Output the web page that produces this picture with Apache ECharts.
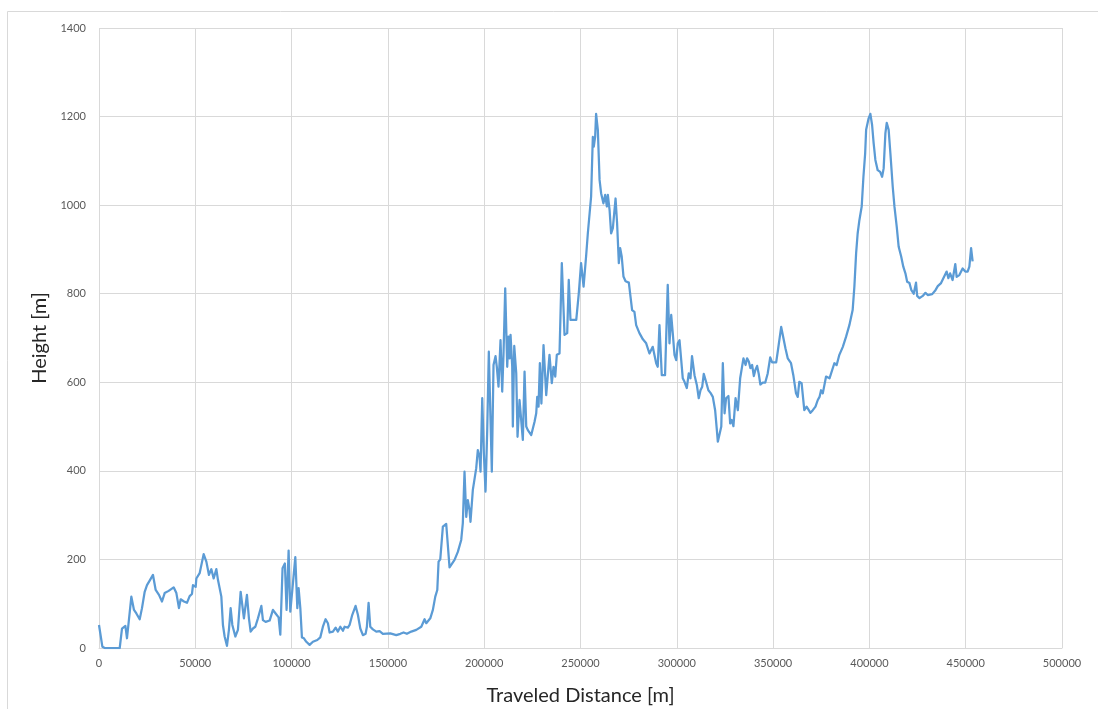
<!DOCTYPE html>
<html>
<head>
<meta charset="utf-8">
<title>Height profile</title>
<script src="https://cdn.jsdelivr.net/npm/echarts@6/dist/echarts.min.js"></script>
<style>
  html, body { margin: 0; padding: 0; background: #ffffff; }
  #chart { width: 1098px; height: 709px; }
</style>
</head>
<body>
<div id="chart"></div>
<script>
// Elevation profile along the route: distance travelled (m) vs. height (m)
const distanceKm = [
  0, 0.9, 1.75, 3.0, 10.75, 11.94, 12.97, 13.7, 14.53, 15.25,
  16.8, 18.16, 19.4, 21.12, 22.32, 23.72, 24.92, 26.31, 28.03, 29.43,
  31.14, 32.7, 34.1, 36.17, 38.77, 40.17, 41.52, 42.4, 44.12, 45.67,
  47.07, 48.27, 48.79, 50.19, 50.55, 52.26, 54.34, 55.74, 57.09, 58.33,
  59.53, 60.93, 61.76, 62.64, 63.52, 64.35, 65.23, 66.43, 67.46, 68.35,
  69.23, 69.91, 70.79, 72.13, 73.54, 74.42, 75.25, 76.81, 77.85, 78.73,
  79.93, 81.17, 82.52, 84.29, 85.11, 86.52, 88.59, 90.31, 91.7, 93.26,
  94.14, 95.3, 96.5, 97.4, 98.45, 99.33, 100.69, 101.93, 102.97, 103.64,
  104.53, 105.36, 106.4, 107.64, 109.35, 111.06, 113.34, 114.9, 116.25, 117.66,
  118.85, 119.74, 121.46, 122.86, 124.05, 125.3, 126.64, 127.52, 129.23, 130.11,
  131.51, 133.23, 134.42, 135.67, 137.02, 138.42, 139.09, 139.97, 140.85, 142.2,
  143.97, 145.69, 147.4, 151.24, 154.35, 156.43, 158.14, 159.86, 162.14, 164.74,
  167.33, 169.04, 169.93, 172.0, 173.35, 174.6, 175.64, 176.31, 177.19, 178.54,
  180.28, 182.0, 182.88, 184.6, 186.31, 188.07, 188.9, 189.78, 190.68, 191.5,
  192.37, 192.89, 194.1, 195.86, 196.69, 197.58, 198.1, 198.98, 199.81, 200.69,
  201.57, 202.4, 203.29, 203.96, 204.84, 205.88, 206.55, 207.43, 208.47, 209.35,
  210.02, 210.91, 211.95, 212.62, 213.16, 213.68, 214.55, 214.87, 215.6, 216.64,
  217.31, 218.35, 219.23, 220.06, 220.95, 221.83, 222.66, 224.42, 226.14, 227.01,
  227.53, 228.21, 228.9, 229.7, 230.8, 232.2, 233.9, 235.1, 236.0, 236.9,
  237.7, 239.1, 240.3, 241.7, 243.1, 243.9, 244.8, 247.8, 249.1, 250.3,
  251.6, 252.9, 253.8, 254.7, 255.5, 256.4, 256.9, 257.6, 258.1, 259.0,
  259.9, 260.7, 261.9, 262.8, 263.7, 264.2, 265.1, 265.9, 266.8, 268.2,
  269.0, 269.9, 270.6, 271.4, 272.3, 273.4, 274.2, 275.1, 275.9, 276.8,
  278.0, 278.9, 280.6, 282.4, 284.1, 285.8, 287.5, 289.3, 290.1, 291.0,
  292.2, 293.9, 295.3, 296.2, 297.1, 297.9, 298.8, 299.7, 300.5, 301.4,
  302.3, 303.1, 304.0, 305.2, 306.2, 307.1, 307.9, 309.2, 310.4, 311.4,
  312.3, 313.2, 314.0, 315.2, 316.4, 317.5, 318.7, 319.9, 320.8, 321.3,
  322.2, 323.1, 323.9, 324.8, 325.6, 326.8, 327.7, 328.5, 329.4, 330.5,
  331.7, 332.9, 333.4, 334.6, 335.7, 336.5, 337.4, 338.2, 339.1, 340.0,
  340.8, 341.7, 342.5, 343.4, 344.6, 345.9, 347.2, 348.5, 349.5, 351.6,
  352.4, 353.3, 354.2, 355.4, 356.4, 357.6, 359.3, 360.5, 361.4, 361.9,
  362.8, 363.6, 364.8, 366.2, 367.4, 369.4, 370.6, 372.0, 373.2, 374.1,
  374.9, 375.8, 377.5, 379.3, 381.8, 383.0, 384.4, 386.2, 387.9, 389.6,
  391.3, 392.2, 393.1, 393.9, 394.8, 396.0, 396.9, 397.8, 398.3, 399.6,
  400.5, 401.4, 402.2, 403.1, 404.3, 405.6, 406.6, 407.4, 408.3, 409.0,
  410.0, 410.9, 412.1, 413.0, 414.2, 415.2, 416.5, 417.6, 418.7, 419.6,
  420.8, 421.8, 423.0, 424.2, 424.8, 426.0, 427.7, 429.1, 430.3, 432.6,
  434.3, 435.5, 437.2, 438.4, 440.1, 441.0, 441.9, 443.2, 444.6, 445.3,
  446.7, 448.4, 449.8, 451.0, 451.9, 452.8, 453.6
];

const heightM = [
  52, 56, 3, 0, 0, 44, 40, 50, 22, 18,
  116, 86, 78, 65, 90, 127, 142, 152, 165, 131,
  120, 105, 124, 129, 137, 124, 90, 110, 105, 102,
  117, 122, 142, 138, 157, 169, 212, 195, 165, 178,
  157, 178, 154, 157, 116, 52, 26, 5, 41, 90,
  52, 52, 26, 41, 127, 124, 67, 120, 67, 37,
  44, 48, 67, 95, 63, 59, 62, 86, 78, 69,
  30, 180, 191, 86, 220, 82, 146, 205, 90, 135,
  90, 24, 22, 14, 7, 14, 18, 24, 48, 65,
  56, 35, 37, 46, 37, 48, 39, 48, 46, 52,
  75, 95, 75, 44, 29, 32, 48, 102, 48, 42,
  37, 38, 32, 33, 29, 32, 35, 32, 37, 41,
  48, 65, 56, 67, 86, 116, 131, 195, 200, 274,
  280, 182, 178, 199, 217, 244, 282, 398, 296, 334,
  312, 285, 357, 406, 447, 432, 398, 564, 441, 353,
  492, 669, 515, 398, 639, 659, 635, 590, 695, 579,
  662, 812, 635, 703, 654, 707, 635, 500, 682, 620,
  477, 560, 556, 470, 624, 500, 492, 481, 511, 530,
  567, 545, 643, 552, 684, 571, 662, 598, 635, 613,
  662, 665, 869, 707, 711, 831, 741, 741, 800, 869,
  816, 884, 936, 940, 1019, 1154, 1132, 1154, 1206, 1170,
  1057, 1027, 1004, 1023, 997, 1023, 989, 936, 948, 1015,
  959, 869, 903, 884, 839, 828, 831, 825, 828, 763,
  759, 729, 711, 697, 688, 665, 680, 643, 635, 729,
  616, 616, 820, 688, 752, 711, 662, 650, 688, 695,
  650, 609, 601, 587, 620, 609, 659, 616, 594, 564,
  582, 590, 619, 601, 582, 576, 567, 537, 492, 466,
  470, 500, 643, 530, 564, 569, 507, 515, 501, 564,
  537, 609, 613, 654, 639, 654, 647, 632, 639, 614,
  628, 637, 620, 595, 599, 599, 620, 656, 645, 645,
  669, 673, 725, 699, 677, 654, 643, 616, 614, 575,
  567, 601, 598, 537, 545, 531, 537, 545, 560, 567,
  582, 575, 613, 609, 643, 639, 662, 680, 703, 729,
  763, 816, 891, 936, 966, 997, 1064, 1117, 1170, 1196,
  1206, 1181, 1140, 1102, 1079, 1075, 1064, 1083, 1162, 1186,
  1170, 1117, 1042, 997, 951, 906, 884, 861, 846, 827,
  824, 808, 800, 825, 795, 790, 795, 802, 797, 799,
  808, 817, 824, 835, 850, 835, 846, 831, 867, 838,
  842, 857, 850, 850, 861, 903, 873
];

const xAxisMax = 500000;
const xAxisStep = 50000;
const yAxisMax = 1400;
const yAxisStep = 200;

const xAxisTitle = 'Traveled Distance [m]';
const yAxisTitle = 'Height [m]';

const profile = distanceKm.map((d, i) => [Math.round(d * 1000), heightM[i]]);

const gridColor = '#d9d9d9';
const tickColor = '#595959';
const fontFamily = 'Lato, "Open Sans", sans-serif';
// plain integers, no thousands separators
const plainNumber = (v) => String(v);

const chart = echarts.init(document.getElementById('chart'), null, { renderer: 'canvas' });

chart.setOption({
  backgroundColor: '#ffffff',
  animation: false,
  graphic: [{
    type: 'rect',
    shape: { x: 7.5, y: 11.5, width: 1100, height: 720 },
    style: { fill: 'none', stroke: gridColor, lineWidth: 1 },
    silent: true,
    z: -1
  }],
  grid: {
    left: 99, right: 36, top: 28, bottom: 61,
    containLabel: false,
    outerBoundsMode: 'none'
  },
  xAxis: {
    type: 'value',
    min: 0,
    max: xAxisMax,
    interval: xAxisStep,
    name: xAxisTitle,
    nameLocation: 'middle',
    nameGap: 38,
    nameTextStyle: { fontFamily, fontSize: 20, color: '#262626' },
    axisLine: { show: true, lineStyle: { color: gridColor, width: 1 } },
    axisTick: { show: false },
    axisLabel: { fontFamily, fontSize: 11, color: tickColor, margin: 10, formatter: plainNumber },
    splitLine: { show: true, lineStyle: { color: gridColor, width: 1 } }
  },
  yAxis: {
    type: 'value',
    min: 0,
    max: yAxisMax,
    interval: yAxisStep,
    name: yAxisTitle,
    nameLocation: 'middle',
    nameGap: 45,
    nameTextStyle: { fontFamily, fontSize: 20, color: '#262626' },
    axisLine: { show: false },
    axisTick: { show: false },
    axisLabel: { fontFamily, fontSize: 11, color: tickColor, margin: 13, formatter: plainNumber },
    splitLine: { show: true, lineStyle: { color: gridColor, width: 1 } }
  },
  series: [{
    type: 'line',
    data: profile,
    showSymbol: false,
    symbol: 'none',
    smooth: false,
    lineStyle: { color: '#5b9bd5', width: 2.25, join: 'round' },
    itemStyle: { color: '#5b9bd5' }
  }]
});
</script>
</body>
</html>
